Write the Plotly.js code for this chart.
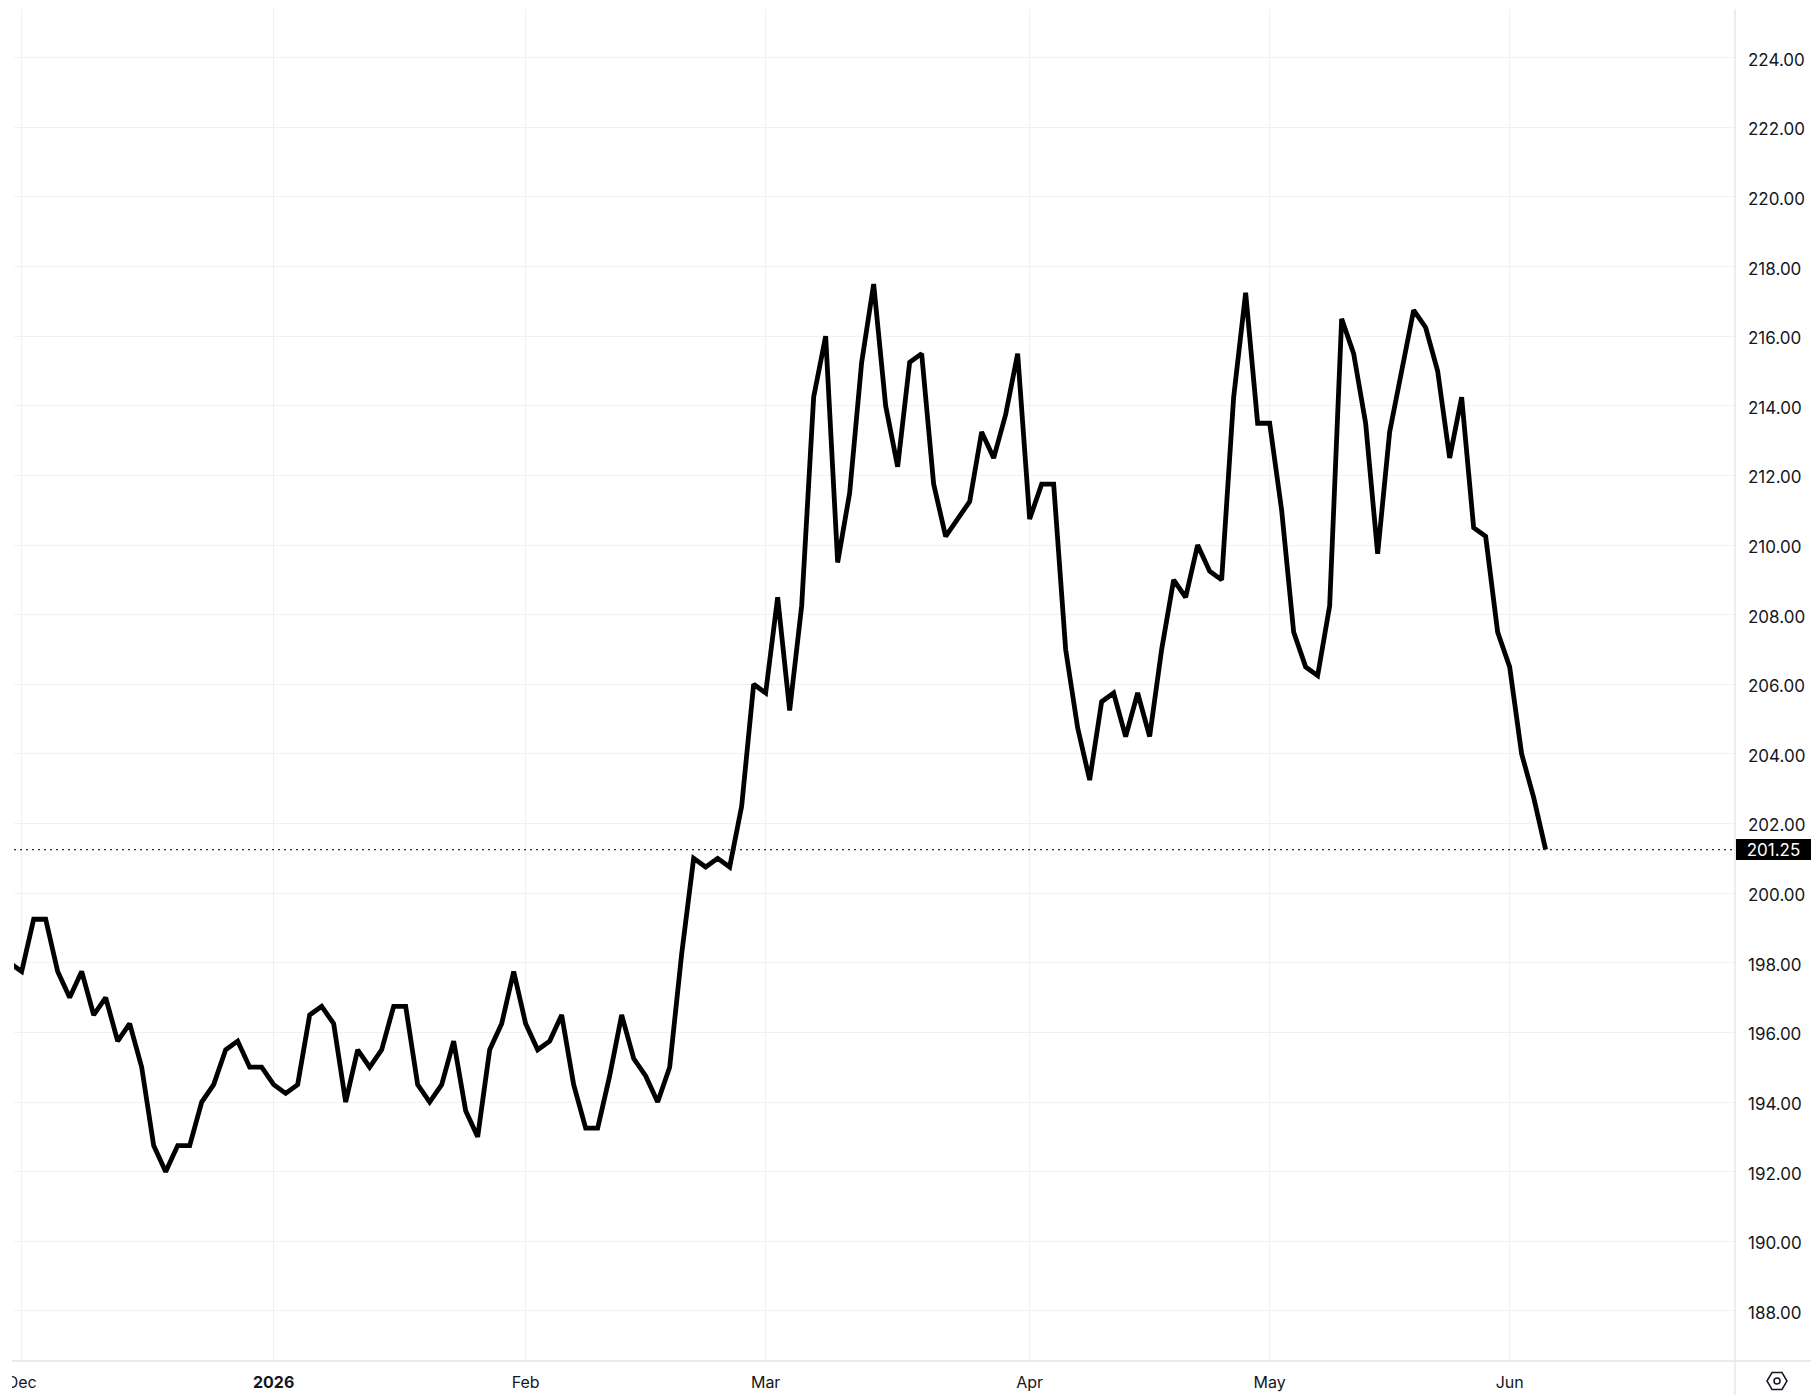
<!DOCTYPE html>
<html>
<head>
<meta charset="utf-8">
<script src="https://cdn.plot.ly/plotly-3.0.1.min.js"></script>
<style>
html,body{margin:0;padding:0;background:#ffffff;}
#chart{width:1811px;height:1395px;}
</style>
</head>
<body>
<div id="chart"></div>
<script>
// Daily closes, one per trading session. The first value is the session before Dec 1 (partly off-chart).
const closes = [
  198.00,
  197.75, 199.25, 199.25, 197.75, 197.00, 197.75, 196.50, 197.00, 195.75, 196.25,
  195.00, 192.75, 192.00, 192.75, 192.75, 194.00, 194.50, 195.50, 195.75, 195.00,
  195.00,
  194.50, 194.25, 194.50, 196.50, 196.75, 196.25, 194.00, 195.50, 195.00, 195.50,
  196.75, 196.75, 194.50, 194.00, 194.50, 195.75, 193.75, 193.00, 195.50, 196.25,
  197.75,
  196.25, 195.50, 195.75, 196.50, 194.50, 193.25, 193.25, 194.75, 196.50, 195.25,
  194.75, 194.00, 195.00, 198.25, 201.00, 200.75, 201.00, 200.75, 202.50, 206.00,
  205.75, 208.50, 205.25, 208.25, 214.25, 216.00, 209.50, 211.50, 215.25, 217.50,
  214.00, 212.25, 215.25, 215.50, 211.75, 210.25, 210.75, 211.25, 213.25, 212.50,
  213.75, 215.50,
  210.75, 211.75, 211.75, 207.00, 204.75, 203.25, 205.50, 205.75, 204.50, 205.75,
  204.50, 207.00, 209.00, 208.50, 210.00, 209.25, 209.00, 214.25, 217.25, 213.50,
  213.50, 211.00, 207.50, 206.50, 206.25, 208.25, 216.50, 215.50, 213.50, 209.75,
  213.25, 215.00, 216.75, 216.25, 215.00, 212.50, 214.25, 210.50, 210.25, 207.50,
  206.50, 204.00, 202.75, 201.25
];
// Session index of the first value (the day before Dec 1)
const firstSession = -1;
// Session index where each month starts, and its label
const monthStartSession = [0, 21, 42, 62, 84, 104, 124];
const monthLabels = ['Dec', '<b>2026</b>', 'Feb', 'Mar', 'Apr', 'May', 'Jun'];
// Price scale
const priceTickStep = 2;

const W = 1811, H = 1395;
const M = {l: 14, r: 76, t: 9, b: 34};
const pw = W - M.l - M.r, ph = H - M.t - M.b;
const pxX = p => (p - M.l) / pw;
const pxY = p => (H - M.b - p) / ph;

const sessions = closes.map((_, i) => firstSession + i);
const last = closes[closes.length - 1];

const FONT = 'Inter, Roboto, "Noto Sans", sans-serif';
const GRID = '#f0f1f4';
const SEP = '#e0e3eb';
const TXT = '#131722';

const trace = {
  x: sessions,
  y: closes,
  type: 'scatter',
  mode: 'lines',
  line: {color: '#000000', width: 4.8, shape: 'linear'},
  hoverinfo: 'skip'
};

// hexagon settings icon
const cx = 1777, cy = 1381;
const hex = [[cx-10,cy],[cx-5,cy-8.5],[cx+5,cy-8.5],[cx+10,cy],[cx+5,cy+8.5],[cx-5,cy+8.5]];
const hexPath = 'M ' + hex.map(p => pxX(p[0]).toFixed(6) + ',' + pxY(p[1]).toFixed(6)).join(' L ') + ' Z';

const layout = {
  width: W, height: H,
  margin: M,
  paper_bgcolor: '#ffffff',
  plot_bgcolor: '#ffffff',
  showlegend: false,
  font: {family: FONT, color: TXT, size: 16},
  xaxis: {
    range: [-0.64, 142.78],
    tickmode: 'array',
    tickvals: monthStartSession,
    ticktext: monthLabels,
    showgrid: true, gridcolor: GRID, gridwidth: 1,
    zeroline: false, showline: false,
    ticks: '', ticklabelstandoff: 10,
    tickfont: {family: FONT, size: 16, color: TXT},
    fixedrange: true
  },
  yaxis: {
    side: 'right',
    range: [186.56, 225.40],
    tick0: 0, dtick: priceTickStep,
    tickformat: '.2f',
    showgrid: true, gridcolor: GRID, gridwidth: 1,
    zeroline: false, showline: false,
    ticks: '', ticklabelstandoff: 12, ticklabelshift: 2,
    tickfont: {family: FONT, size: 17, color: TXT},
    fixedrange: true
  },
  shapes: [
    {type: 'line', xref: 'paper', yref: 'y', x0: 0, x1: 1, y0: last, y1: last,
     line: {color: '#2a2e39', width: 1.2, dash: '2px,4px'}, layer: 'above'},
    {type: 'line', xref: 'paper', yref: 'paper', x0: 1, x1: 1, y0: pxY(H), y1: 1,
     line: {color: SEP, width: 1.3}, layer: 'above'},
    {type: 'line', xref: 'paper', yref: 'paper', x0: pxX(12), x1: pxX(W), y0: 0, y1: 0,
     line: {color: SEP, width: 1.3}, layer: 'above'},
    {type: 'rect', xref: 'paper', yref: 'paper', x0: pxX(-2), x1: pxX(12), y0: pxY(H), y1: pxY(1363),
     fillcolor: '#ffffff', line: {width: 0}, layer: 'above'},
    {type: 'path', xref: 'paper', yref: 'paper', path: hexPath,
     line: {color: TXT, width: 1.5}, fillcolor: 'rgba(0,0,0,0)', layer: 'above'},
    {type: 'circle', xref: 'paper', yref: 'paper',
     x0: pxX(cx-3), x1: pxX(cx+3), y0: pxY(cy+3), y1: pxY(cy-3),
     line: {color: TXT, width: 1.5}, layer: 'above'}
  ],
  annotations: [
    {xref: 'paper', yref: 'y', x: 1, y: last, xanchor: 'left', yanchor: 'middle',
     xshift: 1, text: last.toFixed(2), showarrow: false,
     bgcolor: '#000000', borderpad: 1, borderwidth: 0,
     width: 73, height: 19, align: 'center', valign: 'middle',
     font: {family: FONT, size: 17, color: '#ffffff'}}
  ]
};

Plotly.newPlot('chart', [trace], layout, {displayModeBar: false, staticPlot: true});
</script>
</body>
</html>
